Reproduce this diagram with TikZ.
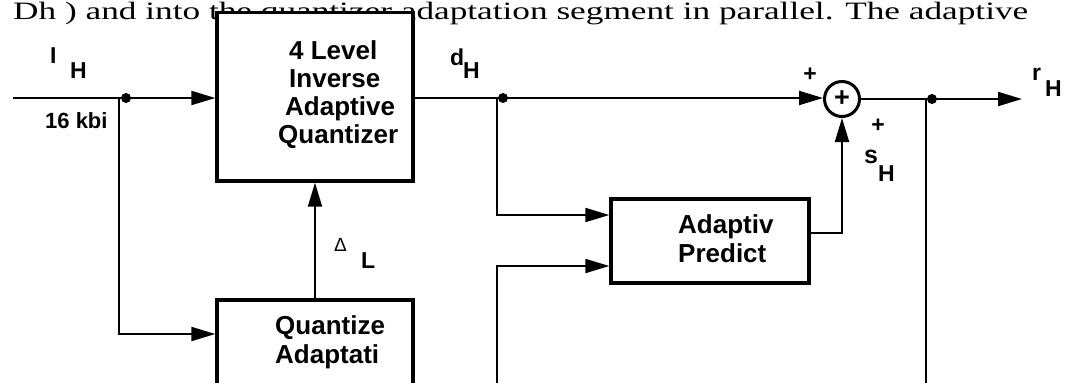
\documentclass[tikz,border=0pt]{standalone}
\usepackage{fontspec}
\setmainfont{Liberation Serif}
\setsansfont{Liberation Sans}
\usetikzlibrary{arrows.meta}
\newcommand{\fsz}[1]{\fontsize{#1}{#1}\selectfont}
\tikzset{
  wire/.style={line width=2pt},
  conn/.style={line width=2pt, -{Triangle[length=24pt,width=14pt]}},
  blk/.style={draw, line width=3.3pt, fill=white, inner sep=0pt},
  jdot/.style={circle, fill, inner sep=0pt, minimum size=10pt},
  lab/.style={font=\sffamily\bfseries\fsz{23}, inner sep=0pt, anchor=base west},
  btxt/.style={font=\sffamily\bfseries\fsz{26}, inner sep=0pt, anchor=base west},
}
\begin{document}
\begin{tikzpicture}[x=1pt,y=-1pt]
\clip (0,0) rectangle (1077,383);
\fill[white] (0,0) rectangle (1077,383);
% running text above
\node[anchor=base west, inner sep=0pt, font=\rmfamily\fsz{25}] (toptext) at (13,19.5)
  {\resizebox{1015pt}{\height}{Dh ) and into the quantizer adaptation segment in parallel. The adaptive}};
% blocks
\node[blk, minimum width=196pt, minimum height=168.5pt] (q1) at (315,96.75) {};
\node[blk, minimum width=196pt, minimum height=110pt] (qa) at (315,355) {};
\node[blk, minimum width=198pt, minimum height=84pt] (ap) at (710,241) {};
\node[draw, circle, line width=3pt, minimum size=35pt, inner sep=0pt] (sum) at (842,99) {};
% block texts
\node[btxt] (t1) at (289,59) {4 Level};
\node[btxt] (t2) at (289,87) {Inverse};
\node[btxt] (t3) at (285,115) {Adaptive};
\node[btxt] (t4) at (278,143) {Quantizer};
\node[btxt] (t5) at (275,334) {Quantize};
\node[btxt] (t6) at (275,363) {Adaptati};
\node[btxt] (t7) at (678,233) {Adaptiv};
\node[btxt] (t8) at (678,262) {Predict};
\node[font=\sffamily\bfseries\fsz{27}, inner sep=0pt] (plusin) at (842,99) {+};
% coordinates
\coordinate (in) at (13,98);
\coordinate (j1) at (119,98);
\coordinate (j1b) at (119,334);
\coordinate (j2) at (497,98);
\coordinate (b2) at (497,390);
\coordinate (j3) at (926,99);
\coordinate (b3) at (926,390);
\coordinate (out) at (1022,99);
\path (ap.west) ++(0,-26) coordinate (p1);
\path (ap.west) ++(0,25) coordinate (p2);
\path (ap.east) ++(0,-8) coordinate (po);
% connectors
\draw[conn] (in) -- (in -| q1.west);
\draw[conn] (j1) -- (j1b) -- (j1b -| qa.west);
\draw[conn] (qa.north) -- (q1.south);
\draw[conn] (in -| q1.east) -- (in -| sum.west);
\draw[conn] (j2) |- (p1);
\draw[conn] (b2) |- (p2);
\draw[conn] (po) -| (sum.south);
\draw[conn] (sum.east) -- (out);
\draw[wire] (j3) -- (b3);
\node[jdot] (d1) at (126,98) {};
\node[jdot] (d2) at (503,98) {};
\node[jdot] (d3) at (932,99) {};
% labels
\node[lab] (lI) at (50,63) {I};
\node[lab] (lIH) at (70,78) {H};
\node[lab, font=\sffamily\bfseries\fsz{22}] (lkb) at (45,128) {16 kbi};
\node[lab] (ld) at (450,65) {d};
\node[lab] (ldH) at (463,78) {H};
\node[lab, font=\sffamily\fsz{19}] (lD) at (334,251) {Δ};
\node[lab] (lL) at (361,268) {L};
\node[font=\sffamily\bfseries\fsz{23}, inner sep=0pt] (pl1) at (810,75) {+};
\node[font=\sffamily\bfseries\fsz{23}, inner sep=0pt] (pl2) at (878,126) {+};
\node[lab, font=\sffamily\bfseries\fsz{25}] (ls) at (864,163) {s};
\node[lab] (lsH) at (878,181) {H};
\node[lab, font=\sffamily\bfseries\fsz{23}] (lr) at (1032,80) {r};
\node[lab] (lrH) at (1045,96) {H};
\end{tikzpicture}
\end{document}
